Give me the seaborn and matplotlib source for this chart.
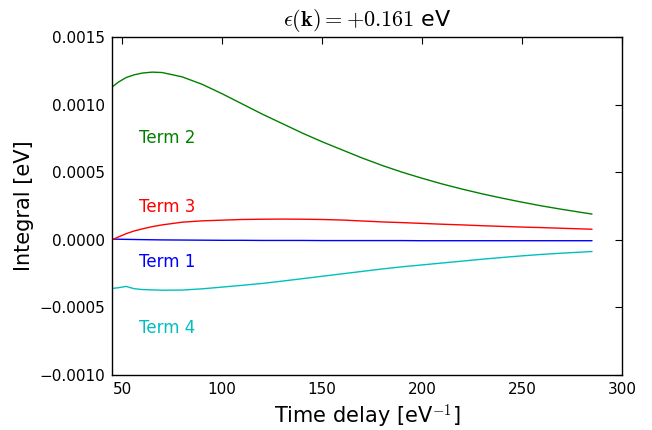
import numpy as np
import pandas as pd
import seaborn as sns
import matplotlib
matplotlib.use("Agg")
import matplotlib.pyplot as plt
from matplotlib.ticker import FuncFormatter

# time delay grid [eV^-1]
time_delay = [45, 48, 52, 56, 60, 65, 70, 80, 90, 100, 110, 120, 130, 140, 150,
              160, 170, 180, 190, 200, 210, 220, 230, 240, 250, 260, 270, 285]

term1 = [0.000005, 0.000004, 0.000003, 0.000002, 0.000001, 0.0, -0.000001, -0.000002,
         -0.000003, -0.000004, -0.000004, -0.000005, -0.000005, -0.000005, -0.000006,
         -0.000006, -0.000006, -0.000006, -0.000006, -0.000007, -0.000007, -0.000007,
         -0.000007, -0.000007, -0.000007, -0.000007, -0.000007, -0.000007]
term2 = [0.00113, 0.001165, 0.0012, 0.00122, 0.001233, 0.00124, 0.001237, 0.001205,
         0.00115, 0.00108, 0.001005, 0.00093, 0.00086, 0.00079, 0.000725, 0.000665,
         0.000605, 0.00055, 0.0005, 0.000455, 0.000413, 0.000375, 0.00034, 0.000308,
         0.000278, 0.00025, 0.000225, 0.00019]
term3 = [0.0, 0.00002, 0.000045, 0.000065, 0.00008, 0.000097, 0.00011, 0.00013,
         0.00014, 0.000145, 0.00015, 0.000152, 0.000153, 0.000152, 0.00015, 0.000146,
         0.000139, 0.000132, 0.000127, 0.000121, 0.000115, 0.00011, 0.000104,
         0.000099, 0.000094, 0.00009, 0.000085, 0.000078]
term4 = [-0.00036, -0.000355, -0.000345, -0.000362, -0.000368, -0.000371, -0.000373,
         -0.000372, -0.000363, -0.00035, -0.000337, -0.000323, -0.000306, -0.000288,
         -0.00027, -0.000252, -0.000234, -0.000216, -0.0002, -0.000186, -0.000172,
         -0.000158, -0.000144, -0.000131, -0.000119, -0.000108, -0.000099, -0.000087]

terms = {"Term 1": term1, "Term 2": term2, "Term 3": term3, "Term 4": term4}
colors = {"Term 1": "b", "Term 2": "g", "Term 3": "r", "Term 4": "c"}
label_y = {"Term 2": 0.00075, "Term 3": 0.000245, "Term 1": -0.000165, "Term 4": -0.000655}

sns.set_style("white")
plt.rcParams["font.family"] = ["DejaVu Sans"]
plt.rcParams["mathtext.fontset"] = "cm"
plt.rcParams["axes.unicode_minus"] = True

df = pd.DataFrame({"Time delay": time_delay, **terms})
long_df = df.melt(id_vars="Time delay", var_name="term", value_name="Integral")

fig = plt.figure(figsize=(6.52, 4.30), dpi=100)
ax = fig.add_axes([0.172, 0.128, 0.782, 0.786])

sns.lineplot(data=long_df, x="Time delay", y="Integral", hue="term",
             palette=colors, linewidth=1.0, legend=False, ax=ax)

for name, yv in label_y.items():
    ax.text(58.5, yv, name, color=colors[name], fontsize=12, va="center", ha="left")

ax.set_xlim(45, 300)
ax.set_ylim(-0.001, 0.0015)
ax.set_xticks([50, 100, 150, 200, 250, 300])
ax.set_yticks([-0.001, -0.0005, 0.0, 0.0005, 0.001, 0.0015])
ax.yaxis.set_major_formatter(FuncFormatter(lambda v, p: ("%.4f" % v).replace("-", "\u2212")))
ax.tick_params(direction="in", top=True, right=True, length=5, width=0.8,
               labelsize=11, colors="black", pad=5)
for s in ax.spines.values():
    s.set_color("black")
    s.set_linewidth(1.0)

ax.set_xlabel(r"Time delay [eV$^{-1}$]", fontsize=15, color="black")
ax.set_ylabel("Integral [eV]", fontsize=15, color="black")
ax.set_title(r"$\epsilon(\mathbf{k}) = +0.161$ eV", fontsize=16, color="black", pad=8)

fig.savefig("out.png", dpi=100)
